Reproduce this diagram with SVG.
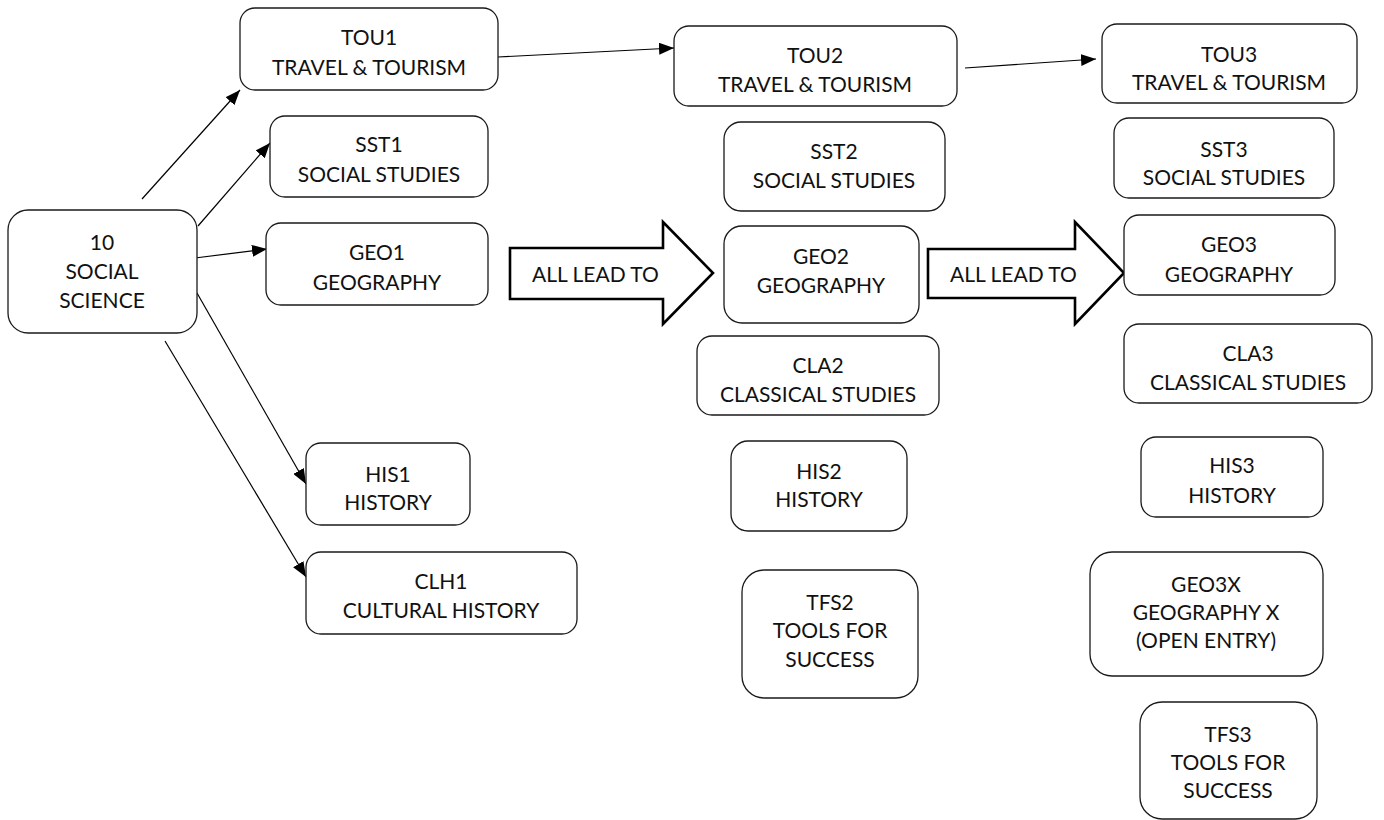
<svg xmlns="http://www.w3.org/2000/svg" width="1384" height="820" viewBox="0 0 1384 820">
<style>
.box{fill:#fff;stroke:#1a1a1a;stroke-width:1.3}
.blk{fill:#fff;stroke:#000;stroke-width:2.6;stroke-linejoin:miter}
.t{font-family:Lato,"Liberation Sans",sans-serif;font-size:21px;fill:#111;text-anchor:middle}
.c{stroke:#000;stroke-width:1.2;fill:none;marker-end:url(#ah)}
</style>
<defs>
<marker id="ah" markerUnits="userSpaceOnUse" markerWidth="15" markerHeight="12" refX="15" refY="6" orient="auto">
<path d="M0,0 L15,6 L0,12 z" fill="#000"/>
</marker>
</defs>
<rect width="1384" height="820" fill="#fff"/>
<g id="connectors">
<line class="c" x1="142" y1="199" x2="240" y2="90"/>
<line class="c" x1="198" y1="226" x2="270" y2="143"/>
<line class="c" x1="195" y1="258" x2="267" y2="249"/>
<line class="c" x1="197" y1="293" x2="306" y2="484"/>
<line class="c" x1="165" y1="341" x2="306" y2="577"/>
<line class="c" x1="498" y1="57" x2="674" y2="48"/>
<line class="c" x1="965" y1="68" x2="1096" y2="59"/>
</g>
<g id="arrow1">
<path class="blk" d="M510,248 L663,248 L663,222 L713,273 L663,324 L663,299 L510,299 Z"/>
<text class="t" x="532" y="282" style="text-anchor:start">ALL LEAD TO</text>
</g>
<g id="arrow2">
<path class="blk" d="M928,249 L1075,249 L1075,222 L1124,273 L1075,324 L1075,298 L928,298 Z"/>
<text class="t" x="950" y="282" style="text-anchor:start">ALL LEAD TO</text>
</g>
<g id="n10">
<rect class="box" x="8" y="210" width="189" height="123" rx="20"/>
<text class="t" x="102" y="250">10</text>
<text class="t" x="102" y="279">SOCIAL</text>
<text class="t" x="102" y="308">SCIENCE</text>
</g>
<g id="tou1">
<rect class="box" x="240" y="8" width="258" height="82" rx="15"/>
<text class="t" x="369" y="45">TOU1</text>
<text class="t" x="369" y="75">TRAVEL &amp; TOURISM</text>
</g>
<g id="sst1">
<rect class="box" x="270" y="116" width="218" height="81" rx="15"/>
<text class="t" x="379" y="152">SST1</text>
<text class="t" x="379" y="182">SOCIAL STUDIES</text>
</g>
<g id="geo1">
<rect class="box" x="266" y="223" width="222" height="82" rx="15"/>
<text class="t" x="377" y="260">GEO1</text>
<text class="t" x="377" y="290">GEOGRAPHY</text>
</g>
<g id="his1">
<rect class="box" x="306" y="443" width="164" height="82" rx="15"/>
<text class="t" x="388" y="482">HIS1</text>
<text class="t" x="388" y="510">HISTORY</text>
</g>
<g id="clh1">
<rect class="box" x="306" y="552" width="271" height="82" rx="15"/>
<text class="t" x="441" y="589">CLH1</text>
<text class="t" x="441" y="618">CULTURAL HISTORY</text>
</g>
<g id="tou2">
<rect class="box" x="674" y="26" width="283" height="80" rx="15"/>
<text class="t" x="815" y="63">TOU2</text>
<text class="t" x="815" y="92">TRAVEL &amp; TOURISM</text>
</g>
<g id="sst2">
<rect class="box" x="724" y="122" width="221" height="89" rx="17"/>
<text class="t" x="834" y="159">SST2</text>
<text class="t" x="834" y="188">SOCIAL STUDIES</text>
</g>
<g id="geo2">
<rect class="box" x="724" y="226" width="195" height="97" rx="18"/>
<text class="t" x="821" y="264">GEO2</text>
<text class="t" x="821" y="293">GEOGRAPHY</text>
</g>
<g id="cla2">
<rect class="box" x="697" y="336" width="242" height="79" rx="15"/>
<text class="t" x="818" y="373">CLA2</text>
<text class="t" x="818" y="402">CLASSICAL STUDIES</text>
</g>
<g id="his2">
<rect class="box" x="731" y="441" width="176" height="90" rx="17"/>
<text class="t" x="819" y="479">HIS2</text>
<text class="t" x="819" y="507">HISTORY</text>
</g>
<g id="tfs2">
<rect class="box" x="742" y="570" width="176" height="128" rx="22"/>
<text class="t" x="830" y="610">TFS2</text>
<text class="t" x="830" y="638">TOOLS FOR</text>
<text class="t" x="830" y="667">SUCCESS</text>
</g>
<g id="tou3">
<rect class="box" x="1102" y="24" width="255" height="79" rx="15"/>
<text class="t" x="1229" y="62">TOU3</text>
<text class="t" x="1229" y="90">TRAVEL &amp; TOURISM</text>
</g>
<g id="sst3">
<rect class="box" x="1114" y="118" width="220" height="80" rx="15"/>
<text class="t" x="1224" y="157">SST3</text>
<text class="t" x="1224" y="185">SOCIAL STUDIES</text>
</g>
<g id="geo3">
<rect class="box" x="1124" y="215" width="211" height="80" rx="15"/>
<text class="t" x="1229" y="252">GEO3</text>
<text class="t" x="1229" y="282">GEOGRAPHY</text>
</g>
<g id="cla3">
<rect class="box" x="1124" y="324" width="248" height="79" rx="15"/>
<text class="t" x="1248" y="361">CLA3</text>
<text class="t" x="1248" y="390">CLASSICAL STUDIES</text>
</g>
<g id="his3">
<rect class="box" x="1141" y="437" width="182" height="80" rx="15"/>
<text class="t" x="1232" y="473">HIS3</text>
<text class="t" x="1232" y="503">HISTORY</text>
</g>
<g id="geo3x">
<rect class="box" x="1090" y="552" width="233" height="124" rx="22"/>
<text class="t" x="1206" y="592">GEO3X</text>
<text class="t" x="1206" y="620">GEOGRAPHY X</text>
<text class="t" x="1206" y="648">(OPEN ENTRY)</text>
</g>
<g id="tfs3">
<rect class="box" x="1140" y="702" width="177" height="117" rx="22"/>
<text class="t" x="1228" y="742">TFS3</text>
<text class="t" x="1228" y="770">TOOLS FOR</text>
<text class="t" x="1228" y="798">SUCCESS</text>
</g>
</svg>
